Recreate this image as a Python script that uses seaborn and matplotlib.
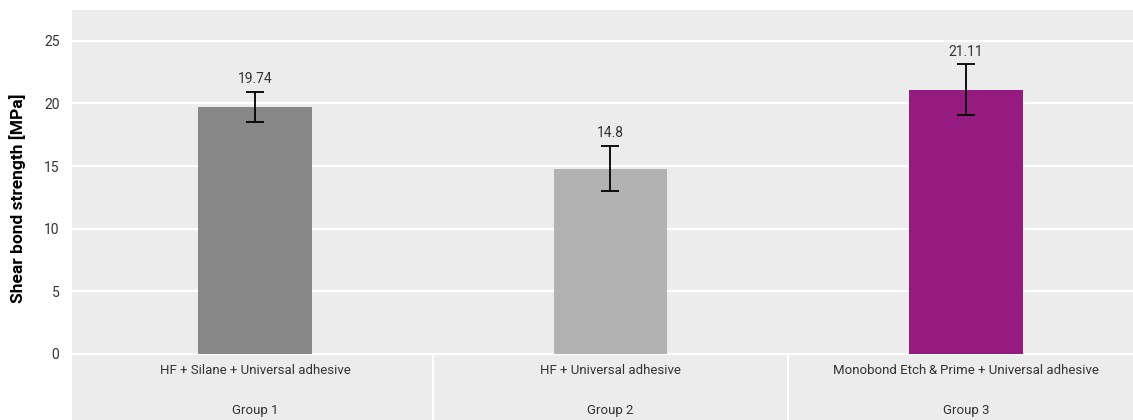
import matplotlib
matplotlib.use("Agg")
import matplotlib.pyplot as plt
import pandas as pd
import seaborn as sns

# data
treatments = ["HF + Silane + Universal adhesive", "HF + Universal adhesive",
              "Monobond Etch\u2009&\u2009Prime + Universal adhesive"]
groups = ["Group 1", "Group 2", "Group 3"]
strength = [19.74, 14.8, 21.11]
errors = [1.2, 1.8, 2.0]
bar_colors = ["#878787", "#b2b2b2", "#951b81"]

df = pd.DataFrame({"treatment": treatments, "group": groups,
                   "strength": strength, "err": errors})

sns.set_theme(style="darkgrid", rc={"axes.facecolor": "#ececec",
                                    "grid.color": "white", "grid.linewidth": 1.6})
plt.rcParams["font.family"] = ["Roboto", "DejaVu Sans"]
text_col = "#333333"
fs = 9.5

fig = plt.figure(figsize=(11.33, 4.2), dpi=100)
ax = fig.add_axes([72 / 1133, 0, 1 - 72 / 1133, 410 / 420])

sns.barplot(data=df, x="treatment", y="strength", hue="treatment",
            palette=bar_colors, width=0.32, errorbar=None, legend=False,
            saturation=1, linewidth=0, ax=ax)
ax.errorbar(range(len(df)), df["strength"], yerr=df["err"], fmt="none",
            ecolor="black", elinewidth=1.3, capsize=6.5, capthick=1.3)

# value labels above the error bars
for i, row in df.iterrows():
    ax.annotate(f"{row['strength']:g}", (i, row["strength"] + row["err"]),
                xytext=(0, 4), textcoords="offset points", ha="center",
                va="bottom", fontsize=10, color=text_col)

ax.set_xlim(-0.515, 2.47)
ax.set_ylim(-5.28, 27.46)
ax.set_yticks([0, 5, 10, 15, 20, 25])
ax.tick_params(axis="y", labelsize=10, labelcolor=text_col, pad=9, length=0)
ax.set_xticks([])
ax.grid(axis="x", visible=False)
ax.set_xlabel("")
ax.set_ylabel("Shear bond strength [MPa]", fontsize=12.5, fontweight="bold",
              color="black")
ax.yaxis.set_label_coords(-0.043, 0.54)

# category block below the zero line
for i, row in df.iterrows():
    ax.text(i, -1.36, row["treatment"], ha="center", va="center",
            fontsize=fs, color=text_col)
    ax.text(i, -4.5, row["group"], ha="center", va="center",
            fontsize=fs, color=text_col)
for x in [0.5, 1.5]:
    ax.plot([x, x], [0, -5.28], color="white", lw=1.6, clip_on=False)

for s in ax.spines.values():
    s.set_visible(False)

fig.savefig("out.png", dpi=100)
